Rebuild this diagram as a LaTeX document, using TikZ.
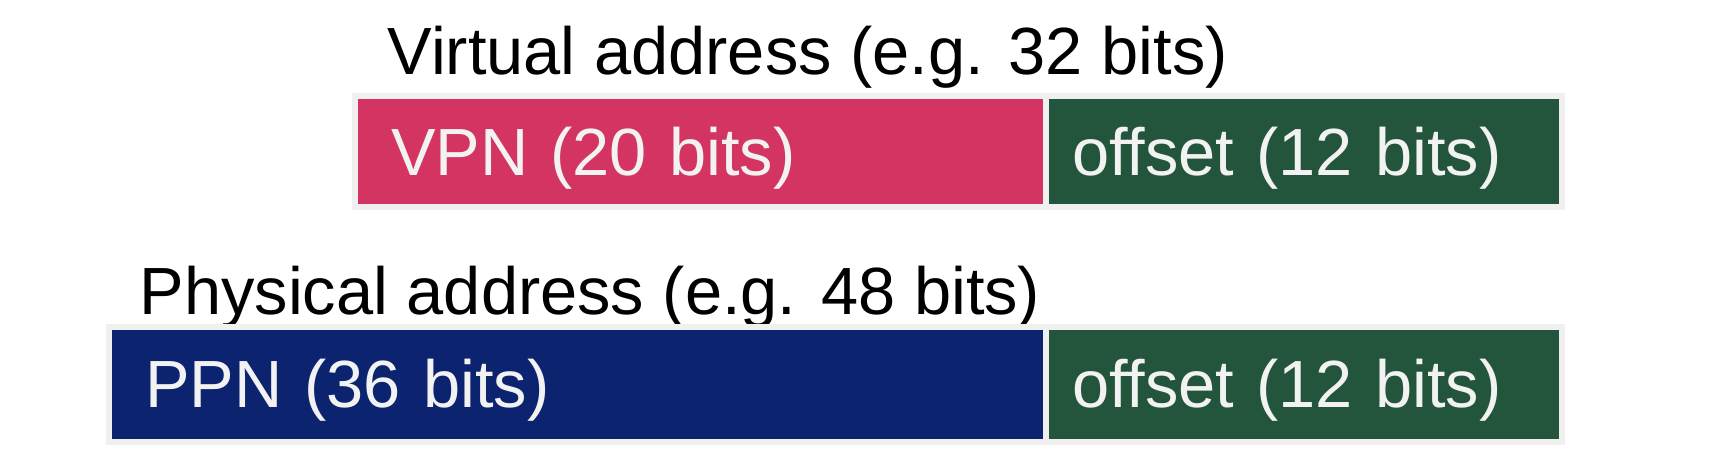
\documentclass[tikz,border=0pt]{standalone}
\usepackage{fontspec}
\setmainfont{Liberation Sans}
\usetikzlibrary{positioning}

\definecolor{vpnred}{RGB}{211,52,97}
\definecolor{ppnblue}{RGB}{12,36,112}
\definecolor{offgreen}{RGB}{35,85,61}
\definecolor{cellgray}{RGB}{240,240,240}
\definecolor{celltext}{RGB}{242,242,242}

\begin{document}
\begin{tikzpicture}[
  cell/.style={draw=cellgray, line width=0.06cm, outer sep=0pt, inner ysep=0pt, inner xsep=0.36cm,
    align=left, text=celltext, text height=0.47cm, text depth=0pt, font=\fontsize{19}{23}\selectfont},
  title/.style={anchor=base west, inner sep=0pt, font=\fontsize{19}{23}\selectfont}
]
\useasboundingbox (0,0) rectangle (17.24,4.66);

% virtual address
\node[title] (virt_text) at (3.87,3.91) {Virtual address (e.g. 32 bits)};
\node[cell, fill=vpnred, minimum height=1.11cm, text width=6.19cm, anchor=south west] (vpn) at (3.55,2.585) {VPN (20 bits)};
\node[cell, fill=offgreen, minimum height=1.11cm, inner xsep=0.26cm, text width=4.64cm, right=0pt of vpn] (voff) {offset (12 bits)};

% physical address
\node[title] (phys_text) at (1.39,1.51) {Physical address (e.g. 48 bits)};
\node[cell, fill=ppnblue, minimum height=1.15cm, text width=8.65cm, anchor=south west] (ppn) at (1.09,0.24) {PPN (36 bits)};
\node[cell, fill=offgreen, minimum height=1.15cm, inner xsep=0.26cm, text width=4.64cm, right=0pt of ppn] (poff) {offset (12 bits)};

\end{tikzpicture}
\end{document}
